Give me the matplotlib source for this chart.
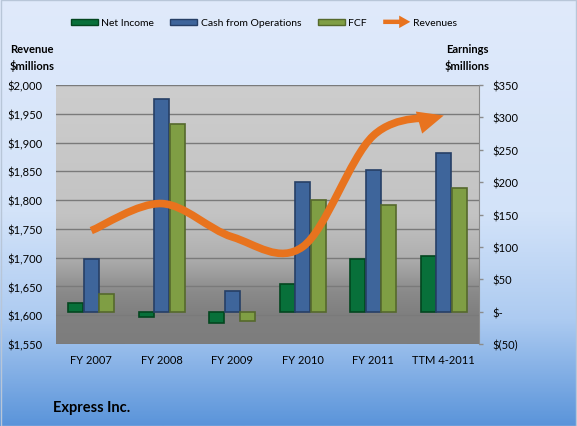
import matplotlib
matplotlib.use("Agg")
import matplotlib.pyplot as plt
import numpy as np
from matplotlib.colors import LinearSegmentedColormap
from matplotlib.legend_handler import HandlerPatch
from matplotlib.patches import FancyArrow, FancyArrowPatch, Rectangle
from matplotlib.path import Path

categories = ["FY 2007", "FY 2008", "FY 2009", "FY 2010", "FY 2011", "TTM 4-2011"]
revenues = [1747, 1794, 1736, 1719, 1912, 1947]
net_income = [13, -9, -17, 43, 81, 86]
cash_from_ops = [81, 328, 32, 200, 219, 245]
fcf = [27, 290, -15, 172, 164, 191]
revenue_ticks = list(range(1550, 2001, 50))
earnings_ticks = list(range(-50, 351, 50))

ORANGE = "#e8731e"
series = [
    ("Net Income", net_income, "#08703a", "#03461f"),
    ("Cash from Operations", cash_from_ops, "#3e659b", "#263f66"),
    ("FCF", fcf, "#7f9e44", "#55692c"),
]


def smooth_path(xs, ys):
    # Excel-style smoothed line: cubic Bezier through each point
    pts = np.column_stack([xs, ys]).astype(float)
    n = len(pts)
    verts = [pts[0]]
    codes = [Path.MOVETO]
    for i in range(n - 1):
        p0 = pts[max(i - 1, 0)]
        p1, p2 = pts[i], pts[i + 1]
        p3 = pts[min(i + 2, n - 1)]
        verts += [p1 + (p2 - p0) / 6, p2 - (p3 - p1) / 6, p2]
        codes += [Path.CURVE4] * 3
    return Path(verts, codes)


def earnings_fmt(v):
    if v == 0:
        return "$-"
    if v < 0:
        return f"$({-v:,.0f})"
    return f"${v:,.0f}"


def bar_handle(legend, orig_handle, xdescent, ydescent, width, height, fontsize):
    return Rectangle((-xdescent, -ydescent), width, height)


def arrow_handle(legend, orig_handle, xdescent, ydescent, width, height, fontsize):
    return FancyArrow(-xdescent, -ydescent + height / 2, width, 0, width=3.2,
                      head_width=9, head_length=8, length_includes_head=True)


plt.rcParams["font.family"] = ["Lato", "DejaVu Sans"]

fig = plt.figure(figsize=(5.77, 4.27), dpi=100)

# figure background gradient
bg = fig.add_axes([0, 0, 1, 1], zorder=-10)
bg_cmap = LinearSegmentedColormap.from_list(
    "bg", [(0, "#e0eafb"), (0.5, "#d3e3f9"), (0.75, "#adcbf1"), (1, "#5a94da")])
bg.imshow(np.linspace(0, 1, 256).reshape(-1, 1), aspect="auto", cmap=bg_cmap,
          extent=[0, 1, 1, 0])
bg.set_xlim(0, 1)
bg.set_ylim(1, 0)
bg.axis("off")
fig.patches.append(Rectangle((0.001, 0.001), 0.997, 0.996, transform=fig.transFigure,
                             fill=False, edgecolor="#b8c6d8", linewidth=1))

ax = fig.add_axes([56 / 577, 1 - 345 / 427, 423 / 577, 259 / 427])
plot_cmap = LinearSegmentedColormap.from_list(
    "plot", [(0, "#cdcdcd"), (0.5, "#c3c3c3"), (0.66, "#b0b0b0"), (0.8, "#8a8a8a"),
             (0.88, "#808080"), (1, "#7d7d7d")])
ax.imshow(np.linspace(0, 1, 256).reshape(-1, 1), aspect="auto", cmap=plot_cmap,
          extent=[0, 1, 0, 1], transform=ax.transAxes, zorder=0)
ax.set_xlim(-0.5, len(categories) - 0.5)
ax.set_ylim(revenue_ticks[0], revenue_ticks[-1])
ax.set_yticks(revenue_ticks)
ax.set_yticklabels([f"${v:,.0f}" for v in revenue_ticks])
ax.grid(axis="y", color="#7a7a7a", linewidth=1)
ax.set_axisbelow(True)
ax.tick_params(axis="y", length=0, pad=9.5, labelsize=8)
ax.tick_params(axis="x", length=0, pad=7, labelsize=8)
ax.set_xticks(range(len(categories)))
ax.set_xticklabels(categories)
for side in ["left", "top", "bottom", "right"]:
    ax.spines[side].set_visible(False)

ax2 = ax.twinx()
x = np.arange(len(categories))
width = 0.22
for i, (label, vals, color, edge) in enumerate(series):
    ax2.bar(x + (i - 1) * width, vals, width * 0.96, color=color, edgecolor=edge,
            linewidth=1.2, label=label, zorder=3)
ax2.set_ylim(earnings_ticks[0], earnings_ticks[-1])
ax2.set_yticks(earnings_ticks)
ax2.set_yticklabels([earnings_fmt(v) for v in earnings_ticks])
ax2.tick_params(axis="y", length=3, width=1, color="#8c8c8c", pad=7, labelsize=8)
for side in ["left", "top", "bottom"]:
    ax2.spines[side].set_visible(False)
ax2.spines["right"].set_color("#8c8c8c")

rev_line = FancyArrowPatch(path=smooth_path(x, revenues), transform=ax.transData,
                           arrowstyle="-|>,head_length=0.45,head_width=0.2",
                           mutation_scale=20, color=ORANGE, linewidth=5.5,
                           joinstyle="miter", capstyle="butt", zorder=5)
ax2.add_artist(rev_line)

handles = [Rectangle((0, 0), 1, 1, facecolor=c, edgecolor=e, linewidth=1)
           for _, _, c, e in series]
arrow_proxy = Rectangle((0, 0), 1, 1, facecolor=ORANGE, edgecolor=ORANGE, linewidth=0)
handler_map = {h: HandlerPatch(patch_func=bar_handle) for h in handles}
handler_map[arrow_proxy] = HandlerPatch(patch_func=arrow_handle)
fig.legend(handles + [arrow_proxy], [s[0] for s in series] + ["Revenues"],
           loc="center", bbox_to_anchor=(264 / 577, 1 - 24 / 427), ncol=4,
           frameon=False, fontsize=7.5, handlelength=2.6, handleheight=0.6,
           handletextpad=0.3, columnspacing=1.6, handler_map=handler_map)

fig.text(32 / 577, 1 - 58 / 427, "Revenue\n$millions", ha="center", va="center",
         fontsize=8, fontweight="bold", linespacing=1.45)
fig.text(467 / 577, 1 - 58 / 427, "Earnings\n$millions", ha="center", va="center",
         fontsize=8, fontweight="bold", linespacing=1.45)
fig.text(53 / 577, 1 - 408 / 427, "Express Inc.", ha="left", va="center",
         fontsize=10.5, fontweight="bold")

fig.savefig("out.png", dpi=100)
